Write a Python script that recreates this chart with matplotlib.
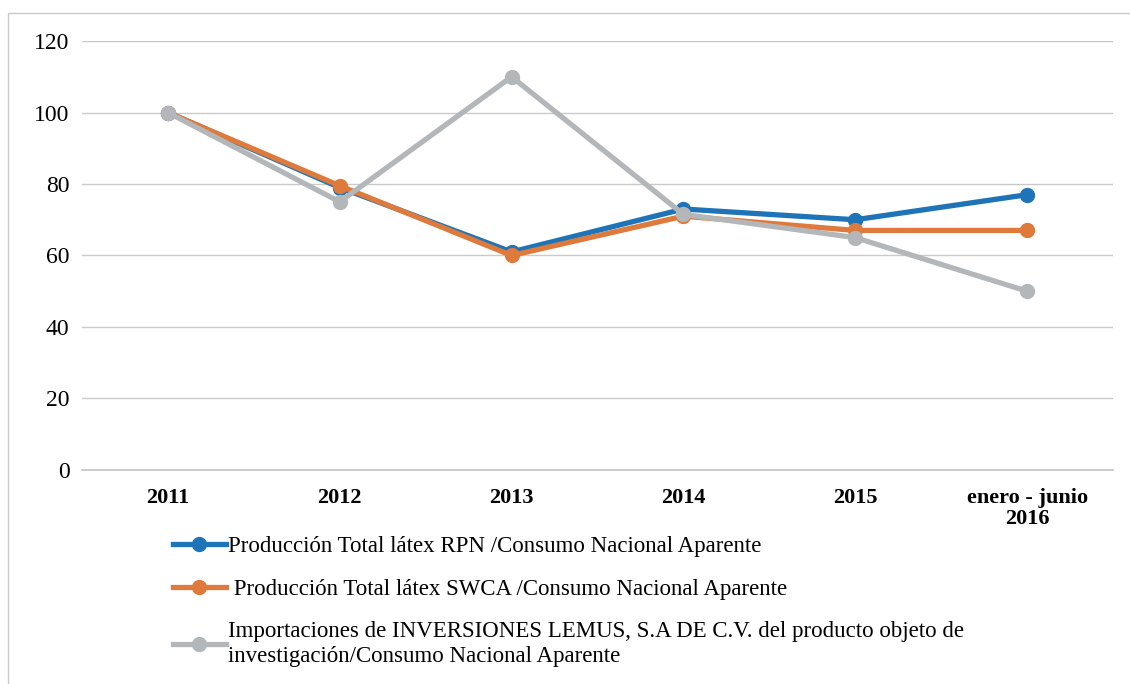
import matplotlib.pyplot as plt
from matplotlib.patches import Rectangle

plt.rcParams['font.family'] = ['Liberation Serif', 'DejaVu Serif']

years = ['2011', '2012', '2013', '2014', '2015', 'enero - junio\n2016']
rpn = [100, 79, 61, 73, 70, 77]
swca = [100, 79.5, 60, 71, 67, 67]
lemus = [100, 75, 110, 71.5, 65, 50]

labels = ['Producción Total látex RPN /Consumo Nacional Aparente',
          ' Producción Total látex SWCA /Consumo Nacional Aparente',
          'Importaciones de INVERSIONES LEMUS, S.A DE C.V. del producto objeto de\ninvestigación/Consumo Nacional Aparente']
colors = ['#1F74B8', '#DD7A3C', '#B4B7B9']

fig = plt.figure(figsize=(11.3, 6.84), dpi=100)
ax = fig.add_axes([0.0726, 0.313, 0.9124, 0.627])

x = range(len(years))
# gray last so it sits on top like the original
for vals, lab, c in [(rpn, labels[0], colors[0]), (swca, labels[1], colors[1]), (lemus, labels[2], colors[2])]:
    ax.plot(x, vals, color=c, lw=3.8, marker='o', markersize=10, label=lab)

ax.set_xlim(-0.5, len(years) - 0.5)
ax.set_ylim(0, 120)
ax.set_yticks(range(0, 121, 20))
ax.set_xticks(list(x))
ax.set_xticklabels(years, fontweight='bold', fontsize=16, linespacing=1.05)
ax.tick_params(axis='y', labelsize=17, length=0, pad=9)
ax.tick_params(axis='x', length=0, pad=13)
ax.grid(axis='y', color='#CACACA', lw=1)
ax.axhline(0, color='#C4C4C4', lw=1.2, zorder=0.5, clip_on=False)
ax.set_axisbelow(True)
for s in ax.spines.values():
    s.set_visible(False)

fig.legend(loc='upper left', bbox_to_anchor=(0.145, 0.23), frameon=False,
           fontsize=16.5, handlelength=2.3, handletextpad=0.1, labelspacing=0.95,
           borderaxespad=0)

fig.patches.append(Rectangle((0.007, -0.1), 1.1, 1.081, transform=fig.transFigure,
                             fill=False, edgecolor='#C8C8C8', lw=1))

fig.savefig('out.png', dpi=100)
